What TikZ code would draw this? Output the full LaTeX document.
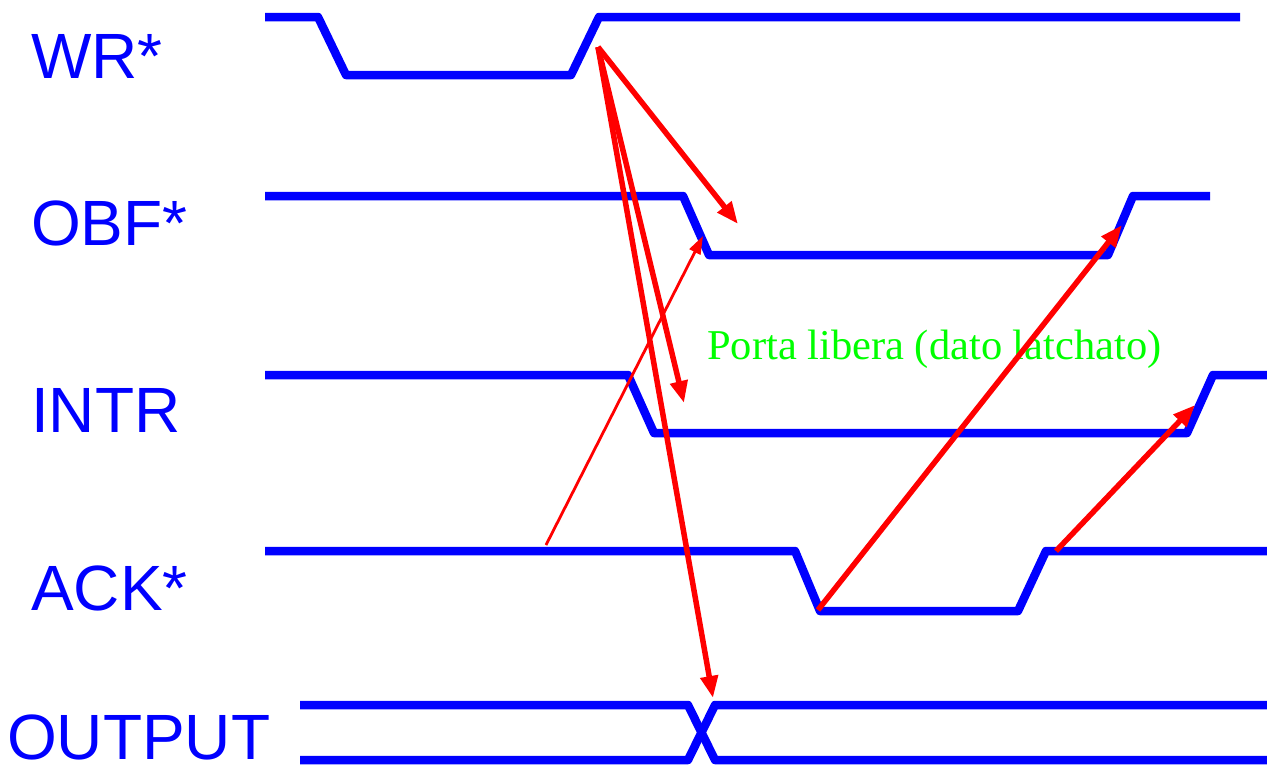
\documentclass[tikz,border=0pt]{standalone}
\usepackage{fontspec}
\setmainfont{Liberation Serif}
\newfontfamily\labfont{Liberation Sans}
\usetikzlibrary{arrows.meta}
\definecolor{sigblue}{RGB}{0,0,255}
\definecolor{arrred}{RGB}{255,0,0}
\definecolor{notegreen}{RGB}{0,255,0}
\tikzset{
  wave/.style={draw=sigblue, line width=8.5pt, line join=round},
  sig/.style={anchor=base west, text=sigblue, font=\labfont\fontsize{64}{64}\selectfont, inner sep=0pt},
  cause/.style={draw=arrred, line width=5.5pt, -{Triangle[length=22pt,width=17pt]}},
  causethin/.style={draw=arrred, line width=2.8pt, -{Triangle[length=18pt,width=12pt]}},
  note/.style={anchor=base west, text=notegreen, font=\fontsize{42.5}{42.5}\selectfont, inner sep=0pt}
}
\begin{document}
\begin{tikzpicture}[x=1pt,y=-1pt]
\useasboundingbox (0,0) rectangle (1267,766);
% labels
\node[sig] (lwr) at (31,78) {WR*};
\node[sig] (lobf) at (31,245) {OBF*};
\node[sig] (lintr) at (31,432) {INTR};
\node[sig] (lack) at (31,610) {ACK*};
\node[sig] (lout) at (7,759) {OUTPUT};
% waveforms
\draw[wave] (265,17) -- (318,17) -- (346,75) -- (571,75) -- (599,17) -- (1240,17);
\draw[wave] (265,196) -- (683,196) -- (709,255) -- (1108,255) -- (1133,196) -- (1210,196);
\draw[wave] (265,375) -- (628,375) -- (654,433) -- (1187,433) -- (1213,375) -- (1267,375);
\draw[wave] (265,551) -- (795,551) -- (820,611) -- (1018,611) -- (1046,551) -- (1267,551);
\draw[wave] (300,705) -- (688,705) -- (715,760) -- (1267,760);
\draw[wave] (300,760) -- (688,760) -- (715,705) -- (1267,705);
% note
\node[note] (nt) at (707,359) {Porta libera (dato latchato)};
% arrow endpoints
\coordinate (wrup) at (598,47);
\coordinate (obfdn) at (738,224);
\coordinate (intrdn) at (684,403);
\coordinate (outch) at (713,698);
\coordinate (ackhi) at (546,545);
\coordinate (obfmid) at (703,236);
\coordinate (ackdn) at (818,610);
\coordinate (obfup) at (1122,225);
\coordinate (ackup) at (1056,551);
\coordinate (intrup) at (1195,405);
% arrows
\draw[cause] (wrup) -- (obfdn);
\draw[cause] (wrup) -- (intrdn);
\draw[cause] (wrup) -- (outch);
\draw[causethin] (ackhi) -- (obfmid);
\draw[cause] (ackdn) -- (obfup);
\draw[cause] (ackup) -- (intrup);
\end{tikzpicture}
\end{document}
